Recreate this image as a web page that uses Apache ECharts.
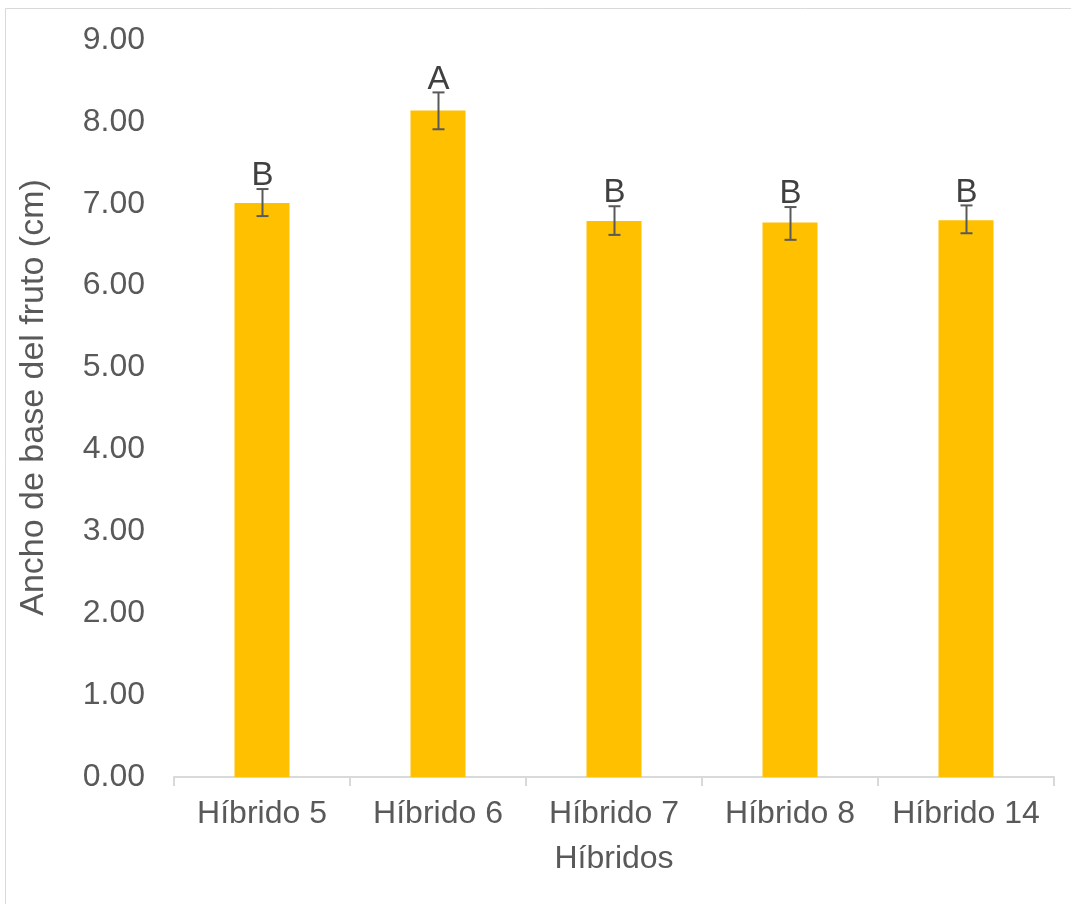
<!DOCTYPE html>
<html>
<head>
<meta charset="utf-8">
<script src="https://cdn.jsdelivr.net/npm/echarts@6/dist/echarts.min.js"></script>
<style>
html,body{margin:0;padding:0;background:#fff;}
#chart{width:1071px;height:904px;}
</style>
</head>
<body>
<div id="chart"></div>
<script>
const categories = ['Híbrido 5', 'Híbrido 6', 'Híbrido 7', 'Híbrido 8', 'Híbrido 14'];
const means = [7.01, 8.14, 6.79, 6.77, 6.80];
const errLow = [6.85, 7.91, 6.62, 6.56, 6.64];
const errHigh = [7.18, 8.36, 6.97, 6.96, 6.98];
const letters = ['B', 'A', 'B', 'B', 'B'];
const yTicks = [0, 1, 2, 3, 4, 5, 6, 7, 8, 9];

const FONT = 'Liberation Sans, Arial, sans-serif';
const chart = echarts.init(document.getElementById('chart'));

const errData = categories.map((c, i) => [i, errLow[i], errHigh[i], letters[i]]);

chart.setOption({
  animation: false,
  backgroundColor: '#fff',
  graphic: [{
    type: 'rect', shape: {x: 5.5, y: 8.5, width: 1200, height: 1000},
    style: {fill: 'none', stroke: '#d9d9d9', lineWidth: 1}, silent: true, z: -10
  }],
  grid: {left: 174, right: 17, top: 40, bottom: 127},
  xAxis: {
    type: 'category',
    data: categories,
    name: 'Híbridos',
    nameLocation: 'middle',
    nameGap: 66,
    nameTextStyle: {fontFamily: FONT, fontSize: 32, color: '#595959'},
    axisLine: {show: true, lineStyle: {color: '#d9d9d9', width: 2}},
    axisTick: {show: true, length: 9, alignWithLabel: false, lineStyle: {color: '#d9d9d9', width: 2}},
    axisLabel: {fontFamily: FONT, fontSize: 32, color: '#595959', margin: 21, interval: 0},
    splitLine: {show: false}
  },
  yAxis: {
    type: 'value',
    min: yTicks[0],
    max: yTicks[yTicks.length - 1],
    interval: 1,
    name: 'Ancho de base del fruto (cm)',
    nameLocation: 'middle',
    nameGap: 123,
    nameTextStyle: {fontFamily: FONT, fontSize: 34, color: '#595959', padding: [0, 0, 0, 22]},
    axisLine: {show: false},
    axisTick: {show: false},
    splitLine: {show: false},
    axisLabel: {
      fontFamily: FONT, fontSize: 32, color: '#595959', margin: 29,
      formatter: v => v.toFixed(2)
    }
  },
  series: [{
    type: 'bar',
    data: means,
    barWidth: 55,
    itemStyle: {color: '#ffc000'},
    z: 2
  }, {
    type: 'custom',
    data: errData,
    z: 5,
    renderItem: function (params, api) {
      const x = api.value(0);
      const lo = api.coord([x, api.value(1)]);
      const hi = api.coord([x, api.value(2)]);
      const cx = Math.round(lo[0]) + 0.5;
      const hw = 6;
      const style = {stroke: '#595959', lineWidth: 2};
      return {
        type: 'group',
        children: [
          {type: 'line', shape: {x1: cx, y1: hi[1], x2: cx, y2: lo[1]}, style: style},
          {type: 'line', shape: {x1: cx - hw, y1: hi[1], x2: cx + hw, y2: hi[1]}, style: style},
          {type: 'line', shape: {x1: cx - hw, y1: lo[1], x2: cx + hw, y2: lo[1]}, style: style},
          {type: 'text', style: {
            text: api.value(3), x: cx, y: hi[1] - 13,
            textAlign: 'center', textVerticalAlign: 'middle',
            font: '33px ' + FONT, fill: '#404040'
          }}
        ]
      };
    }
  }]
});
</script>
</body>
</html>
